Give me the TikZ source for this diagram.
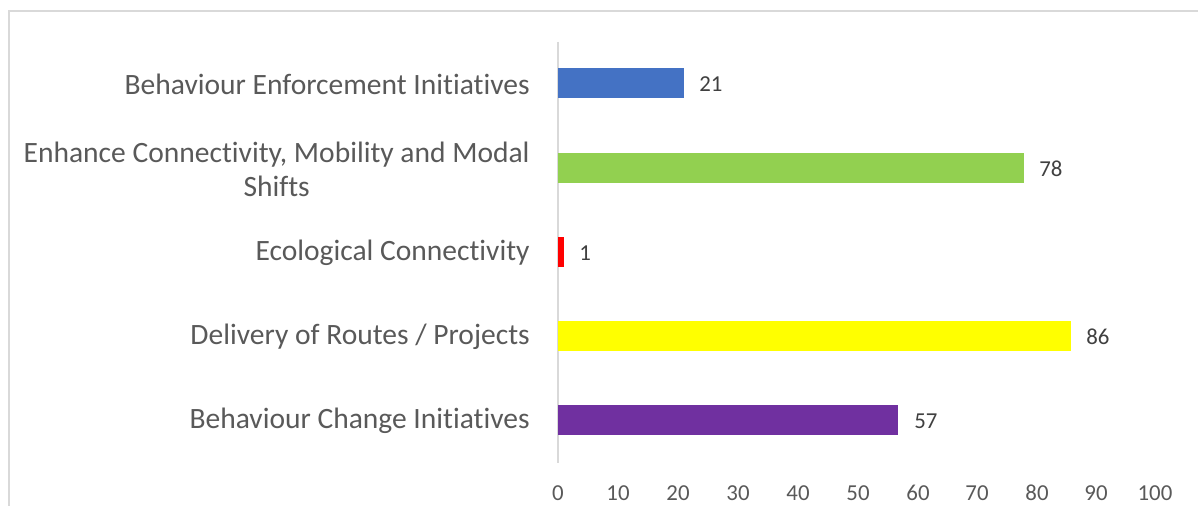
\documentclass[tikz,border=0pt]{standalone}
\usepackage{fontspec}
\setmainfont{Carlito}[Ligatures=NoCommon]
\usepackage{xcolor}

\definecolor{catgray}{HTML}{595959}
\definecolor{valgray}{HTML}{404040}
\definecolor{gridgray}{HTML}{D9D9D9}
\definecolor{barblue}{HTML}{4472C4}
\definecolor{bargreen}{HTML}{92D050}
\definecolor{barred}{HTML}{FF0000}
\definecolor{baryellow}{HTML}{FFFF00}
\definecolor{barpurple}{HTML}{7030A0}

\tikzset{
  catlabel/.style={anchor=east, align=center, inner sep=0pt, text=catgray,
    font=\fontsize{16.8}{19.2}\selectfont},
  vallabel/.style={anchor=west, inner sep=0pt, text=valgray,
    font=\fontsize{13}{15}\selectfont},
  ticklabel/.style={inner sep=0pt, text=catgray,
    font=\fontsize{13}{15}\selectfont}
}

\begin{document}
\begin{tikzpicture}[x=0.02cm, y=-0.02cm]
        \useasboundingbox (0, 0) rectangle (1198, 506);

        % Chart frame
        \draw[gridgray, line width=0.8pt] (9, 506) -- (9, 11) -- (1198, 11);

        % Axis
        \coordinate (axtop) at (558, 42);
        \coordinate (axbot) at (558, 463);
        \draw[gridgray, line width=1pt] (axtop) -- (axbot);

        % Bars
        \fill[barblue] (558, 68) rectangle (684, 98);
        \fill[bargreen] (558, 153) rectangle (1024, 183);
        \fill[barred] (558, 237) rectangle (564, 267);
        \fill[baryellow] (558, 321) rectangle (1071, 351);
        \fill[barpurple] (558, 405) rectangle (898, 435);

        % Category labels
        \node[catlabel] (catA) at (530, 84) {Behaviour Enforcement Initiatives};
        \node[catlabel] (catB) at (530, 169) {Enhance Connectivity, Mobility and Modal\\Shifts};
        \node[catlabel] (catC) at (530, 253) {Ecological Connectivity};
        \node[catlabel] (catD) at (530, 337) {Delivery of Routes / Projects};
        \node[catlabel] (catE) at (530, 421) {Behaviour Change Initiatives};

        % Value labels
        \node[vallabel] (valA) at (699, 84) {21};
        \node[vallabel] (valB) at (1039, 169) {78};
        \node[vallabel] (valC) at (579, 253) {1};
        \node[vallabel] (valD) at (1086, 337) {86};
        \node[vallabel] (valE) at (914, 421) {57};

        % Tick labels
        \node[ticklabel] (t0) at (558, 493) {0};
        \node[ticklabel] (t10) at (618, 493) {10};
        \node[ticklabel] (t20) at (678, 493) {20};
        \node[ticklabel] (t30) at (738, 493) {30};
        \node[ticklabel] (t40) at (798, 493) {40};
        \node[ticklabel] (t50) at (858, 493) {50};
        \node[ticklabel] (t60) at (918, 493) {60};
        \node[ticklabel] (t70) at (977, 493) {70};
        \node[ticklabel] (t80) at (1037, 493) {80};
        \node[ticklabel] (t90) at (1096, 493) {90};
        \node[ticklabel] (t100) at (1155, 493) {100};

    \end{tikzpicture}
\end{document}
